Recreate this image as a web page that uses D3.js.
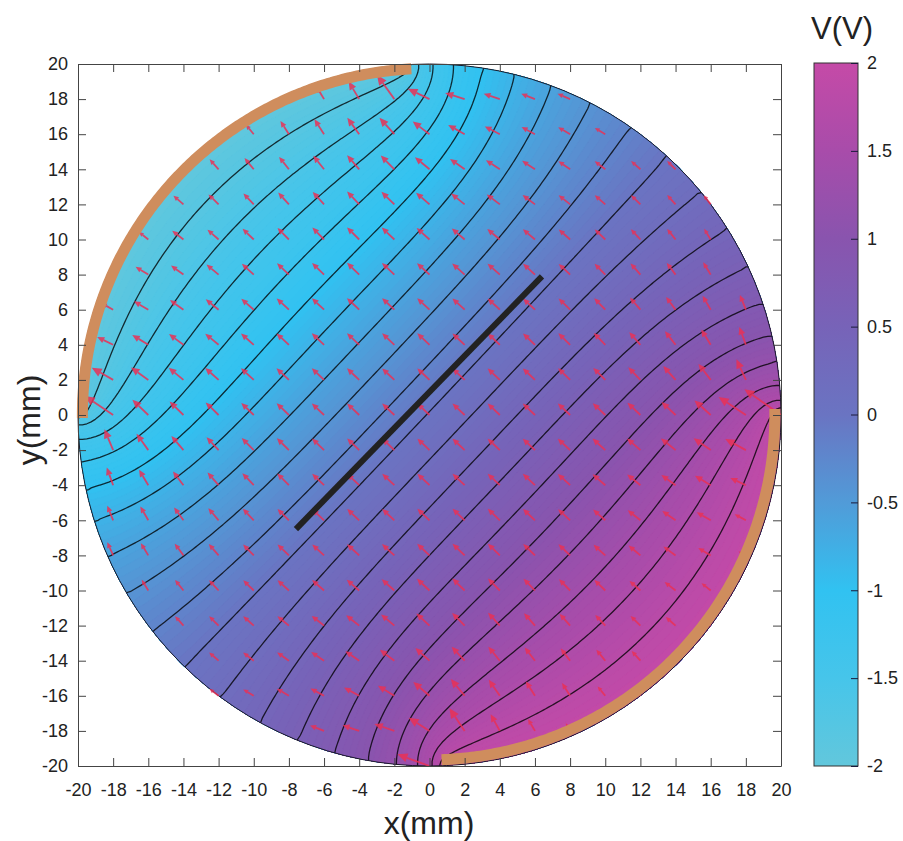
<!DOCTYPE html>
<html>
<head>
<meta charset="utf-8">
<script src="https://cdn.jsdelivr.net/npm/d3@7"></script>
<style>
  body { margin: 0; background: #fff; }
  text { font-family: Arial, "Liberation Sans", Helvetica, sans-serif; fill: #222; }
</style>
</head>
<body>
<svg id="chart" width="903" height="841"></svg>
<script>
// ---- data ----
const xTicks = [-20, -18, -16, -14, -12, -10, -8, -6, -4, -2, 0, 2, 4, 6, 8, 10, 12, 14, 16, 18, 20];
const yTicks = [-20, -18, -16, -14, -12, -10, -8, -6, -4, -2, 0, 2, 4, 6, 8, 10, 12, 14, 16, 18, 20];
const cbTicks = [-2, -1.5, -1, -0.5, 0, 0.5, 1, 1.5, 2];
const cbTickLabels = ["-2", "-1.5", "-1", "-0.5", "0", "0.5", "1", "1.5", "2"];
const colorStops = [-2, -1.5, -1, -0.5, 0, 0.5, 1, 1.5, 2];
const colorValues = ["#62c7dc", "#46c5ea", "#31c2f1", "#519bd8", "#6a74c2", "#7763b8", "#8954ae", "#a84caa", "#c54aa7"];
const radius = 20;                       // mm
const electrodeFrom = [93, 272];         // deg
const electrodeTo = [180.5, 361];        // deg
const electrodeVolt = [-2, 2];           // V
const electrodeR = [19.75, 19.65];       // drawn radius, mm
const crackX = [-7.6, 6.4];
const crackY = [-6.5, 7.9];
const contourLevels = [-1.8, -1.6, -1.4, -1.2, -1, -0.8, -0.6, -0.4, -0.2, 0, 0.2, 0.4, 0.6, 0.8, 1, 1.2, 1.4, 1.6, 1.8];
const quiverX = [-20, -18, -16, -14, -12, -10, -8, -6, -4, -2, 0, 2, 4, 6, 8, 10, 12, 14, 16, 18, 20];
const quiverY = [-20, -18, -16, -14, -12, -10, -8, -6, -4, -2, 0, 2, 4, 6, 8, 10, 12, 14, 16, 18, 20];

const svg = d3.select("#chart");
const x = d3.scaleLinear().domain([-20, 20]).range([78, 781]);
const y = d3.scaleLinear().domain([-20, 20]).range([766, 64]);
const color = d3.scaleLinear().domain(colorStops).range(colorValues).clamp(true);

// electrode lookup on the rim
function electrodeAt(px, py) {
    let a = Math.atan2(py, px) * 180 / Math.PI;
    if (a < 0) a += 360;
    for (let k = 0; k < electrodeFrom.length; k++) {
        const span = electrodeTo[k] - electrodeFrom[k];
        if ((((a - electrodeFrom[k]) % 360) + 360) % 360 <= span) return electrodeVolt[k];
    }
    return null;
}

// ---- Laplace solve on the disk (electrodes fixed, rest insulated) ----
const h = 0.25;
const n = Math.round(2 * radius / h) + 1;
const gc = i => -radius + i * h;
const V = new Float64Array(n * n);
const inside = new Uint8Array(n * n);
for (let j = 0; j < n; j++) for (let i = 0; i < n; i++) {
    const px = gc(i), py = gc(j);
    if (px * px + py * py < radius * radius - 1e-9) inside[j * n + i] = 1;
    V[j * n + i] = (px - py) / (radius * Math.SQRT2) * 1.5;
}
const nodes = [], nbIdx = [], nbW = [], cst = [], wsum = [];
for (let j = 0; j < n; j++) for (let i = 0; i < n; i++) {
    const p = j * n + i;
    if (!inside[p]) continue;
    const px = gc(i), py = gc(j);
    const idx = [], w = [];
    let c = 0, ws = 0;
    for (const [dx, dy] of [[1, 0], [0, 1]]) {
        const sides = [-1, 1].map(s => {
            const qi = i + s * dx, qj = j + s * dy, q = qj * n + qi;
            if (inside[q]) return { kind: "in", d: 1, q };
            const Dx = s * dx * h, Dy = s * dy * h;
            const a = h * h, b = 2 * (px * Dx + py * Dy), cc = px * px + py * py - radius * radius;
            let t = (-b + Math.sqrt(b * b - 4 * a * cc)) / (2 * a);
            t = Math.max(t, 1e-3);
            const ev = electrodeAt(px + t * Dx, py + t * Dy);
            if (ev !== null) return { kind: "dir", d: t, v: ev };
            return { kind: "neu" };
        });
        const [sa, sb] = sides;
        const wts = [0, 0];
        if (sa.kind !== "neu" && sb.kind !== "neu") {
            wts[0] = 2 / (sa.d * (sa.d + sb.d));
            wts[1] = 2 / (sb.d * (sa.d + sb.d));
        } else if (sa.kind !== "neu") {
            wts[0] = 1 / sa.d;
        } else if (sb.kind !== "neu") {
            wts[1] = 1 / sb.d;
        }
        sides.forEach((sd, k) => {
            if (!wts[k]) return;
            ws += wts[k];
            if (sd.kind === "in") { idx.push(sd.q); w.push(wts[k]); }
            else c += wts[k] * sd.v;
        });
    }
    if (ws === 0) continue;
    nodes.push(p); nbIdx.push(idx); nbW.push(w); cst.push(c); wsum.push(ws);
}
const omega = 1.95;
for (let it = 0; it < 2500; it++) {
    for (let k = 0; k < nodes.length; k++) {
        const idx = nbIdx[k], w = nbW[k];
        let s = cst[k];
        for (let m = 0; m < idx.length; m++) s += w[m] * V[idx[m]];
        const p = nodes[k];
        V[p] += omega * (s / wsum[k] - V[p]);
    }
}
// extend outside the rim so contours and gradients reach the edge
for (let j = 0; j < n; j++) for (let i = 0; i < n; i++) {
    const p = j * n + i;
    if (inside[p]) continue;
    const px = gc(i), py = gc(j), r = Math.hypot(px, py);
    const ev = electrodeAt(px, py);
    if (ev !== null) { V[p] = ev; continue; }
    for (let rr = radius - 0.5 * h; rr > 0; rr -= 0.5 * h) {
        const qi = Math.round((px * rr / r + radius) / h), qj = Math.round((py * rr / r + radius) / h);
        const q = qj * n + qi;
        if (inside[q]) { V[p] = V[q]; break; }
    }
}

// ---- drawing ----
const defs = svg.append("defs");
defs.append("clipPath").attr("id", "disk")
    .append("ellipse")
    .attr("cx", x(0)).attr("cy", y(0))
    .attr("rx", x(radius) - x(0)).attr("ry", y(0) - y(radius));

const toPx = d3.geoPath(d3.geoTransform({
    point(cx, cy) { this.stream.point(x(-radius + (cx - 0.5) * h), y(-radius + (cy - 0.5) * h)); }
}));

const field = svg.append("g").attr("clip-path", "url(#disk)");
field.append("rect").attr("x", 60).attr("y", 50).attr("width", 740).attr("height", 740)
    .attr("fill", color(-2));
const bandStep = 0.04;
const bandLevels = d3.range(-2 + bandStep, 2, bandStep);
const bands = d3.contours().size([n, n]).thresholds(bandLevels)(V);
field.selectAll("path.band").data(bands).join("path")
    .attr("class", "band")
    .attr("d", toPx)
    .attr("fill", d => color(d.value + bandStep / 2))
    .attr("stroke", d => color(d.value + bandStep / 2))
    .attr("stroke-width", 0.6);

const lines = d3.contours().size([n, n]).thresholds(contourLevels)(V);
field.selectAll("path.iso").data(lines).join("path")
    .attr("class", "iso")
    .attr("d", toPx)
    .attr("fill", "none")
    .attr("stroke", "#000")
    .attr("stroke-opacity", 0.78)
    .attr("stroke-width", 1.3);

// circle outline
svg.append("ellipse")
    .attr("cx", x(0)).attr("cy", y(0))
    .attr("rx", x(radius) - x(0)).attr("ry", y(0) - y(radius))
    .attr("fill", "none").attr("stroke", "#1a1a2a").attr("stroke-width", 1);

// field arrows (E = -grad V on the 2 mm sampling grid), autoscaled like quiver
function valAt(px, py) {
    const i = Math.max(0, Math.min(n - 1, Math.round((px + radius) / h)));
    const j = Math.max(0, Math.min(n - 1, Math.round((py + radius) / h)));
    return V[j * n + i];
}
const spacing = quiverX[1] - quiverX[0];
const arrows = [];
quiverY.forEach(qy => quiverX.forEach(qx => {
    const r2 = qx * qx + qy * qy;
    if (r2 > radius * radius + 1e-9) return;
    const xa = Math.max(-radius, qx - spacing), xb = Math.min(radius, qx + spacing);
    const ya = Math.max(-radius, qy - spacing), yb = Math.min(radius, qy + spacing);
    const ex = -(valAt(xb, qy) - valAt(xa, qy)) / (xb - xa);
    const ey = -(valAt(qx, yb) - valAt(qx, ya)) / (yb - ya);
    // rim points only keep arrows that point into the disk
    if (r2 > (radius - 0.5) * (radius - 0.5) && ex * qx + ey * qy > 0) return;
    arrows.push({ qx, qy, ex, ey });
}));
const maxE = d3.max(arrows, a => Math.hypot(a.ex, a.ey));
const arrowScale = 0.9 * spacing * Math.SQRT2 / maxE;
const quiver = svg.append("g").attr("fill", "#ea3156").attr("stroke", "#ea3156").attr("opacity", 0.85);
arrows.forEach(a => {
    const x0 = x(a.qx), y0 = y(a.qy);
    const x1 = x(a.qx + a.ex * arrowScale), y1 = y(a.qy + a.ey * arrowScale);
    const len = Math.hypot(x1 - x0, y1 - y0);
    if (len < 0.5) return;
    const ux = (x1 - x0) / len, uy = (y1 - y0) / len;
    const hl = Math.min(10, Math.max(4.5, len * 0.4)), hw = hl * 0.45;
    const bx = x1 - ux * hl, by = y1 - uy * hl;
    quiver.append("line")
        .attr("x1", x0).attr("y1", y0).attr("x2", bx).attr("y2", by)
        .attr("stroke-width", 1.8);
    quiver.append("path")
        .attr("stroke", "none")
        .attr("d", `M${x1},${y1}L${bx - uy * hw},${by + ux * hw}L${bx + uy * hw},${by - ux * hw}Z`);
});

// crack / probe line
svg.append("line")
    .attr("x1", x(crackX[0])).attr("y1", y(crackY[0]))
    .attr("x2", x(crackX[1])).attr("y2", y(crackY[1]))
    .attr("stroke", "#222").attr("stroke-width", 6);

// electrodes
const arcLine = d3.line().x(d => x(d[0])).y(d => y(d[1]));
electrodeFrom.forEach((a0, k) => {
    const pts = d3.range(a0, electrodeTo[k] + 0.01, 0.5).map(a => {
        const t = a * Math.PI / 180;
        return [electrodeR[k] * Math.cos(t), electrodeR[k] * Math.sin(t)];
    });
    svg.append("path").attr("d", arcLine(pts))
        .attr("fill", "none").attr("stroke", "#cf8d5d").attr("stroke-width", 11);
});

// axes box with inward ticks
const axisColor = "#444";
function styleAxis(g) {
    g.selectAll(".domain").attr("stroke", axisColor);
    g.selectAll(".tick line").attr("stroke", axisColor);
    g.selectAll(".tick text").attr("fill", "#222").style("font-size", "18px")
        .style("font-family", 'Arial, "Liberation Sans", sans-serif');
}
svg.append("g").attr("transform", `translate(0,${y(-20)})`)
    .call(d3.axisBottom(x).tickValues(xTicks).tickFormat(d3.format("d")).tickSize(-8).tickSizeOuter(0).tickPadding(17))
    .call(styleAxis);
svg.append("g").attr("transform", `translate(0,${y(20)})`)
    .call(d3.axisTop(x).tickValues(xTicks).tickFormat("").tickSize(-8).tickSizeOuter(0))
    .call(styleAxis);
svg.append("g").attr("transform", `translate(${x(-20)},0)`)
    .call(d3.axisLeft(y).tickValues(yTicks).tickFormat(d3.format("d")).tickSize(-8).tickSizeOuter(0).tickPadding(10))
    .call(styleAxis);
svg.append("g").attr("transform", `translate(${x(20)},0)`)
    .call(d3.axisRight(y).tickValues(yTicks).tickFormat("").tickSize(-8).tickSizeOuter(0))
    .call(styleAxis);
svg.selectAll(".tick text").text(function () { return this.textContent.replace("\u2212", "-"); });

svg.append("text").attr("x", 429).attr("y", 834).attr("text-anchor", "middle")
    .style("font-size", "32px").text("x(mm)");
svg.append("text").attr("transform", "translate(40,420) rotate(-90)").attr("text-anchor", "middle")
    .style("font-size", "32px").text("y(mm)");

// colorbar
const cb = d3.scaleLinear().domain([-2, 2]).range([766, 63]);
const grad = defs.append("linearGradient").attr("id", "cbgrad")
    .attr("x1", 0).attr("y1", 1).attr("x2", 0).attr("y2", 0);
grad.selectAll("stop").data(colorStops).join("stop")
    .attr("offset", d => `${(d + 2) / 4 * 100}%`)
    .attr("stop-color", d => color(d));
svg.append("rect").attr("x", 814).attr("y", cb(2)).attr("width", 44).attr("height", cb(-2) - cb(2))
    .attr("fill", "url(#cbgrad)").attr("stroke", "#333").attr("stroke-width", 1);
const cbAxis = svg.append("g").attr("transform", "translate(858,0)")
    .call(d3.axisRight(cb).tickValues(cbTicks).tickFormat((d, i) => cbTickLabels[i]).tickSize(-7).tickSizeOuter(0).tickPadding(9));
cbAxis.select(".domain").remove();
cbAxis.selectAll(".tick line").attr("stroke", "#1a1a3a");
cbAxis.selectAll(".tick text").attr("fill", "#222").style("font-size", "18px")
    .style("font-family", 'Arial, "Liberation Sans", sans-serif');
svg.append("text").attr("x", 842).attr("y", 39).attr("text-anchor", "middle")
    .style("font-size", "31px").text("V(V)");
</script>
</body>
</html>
